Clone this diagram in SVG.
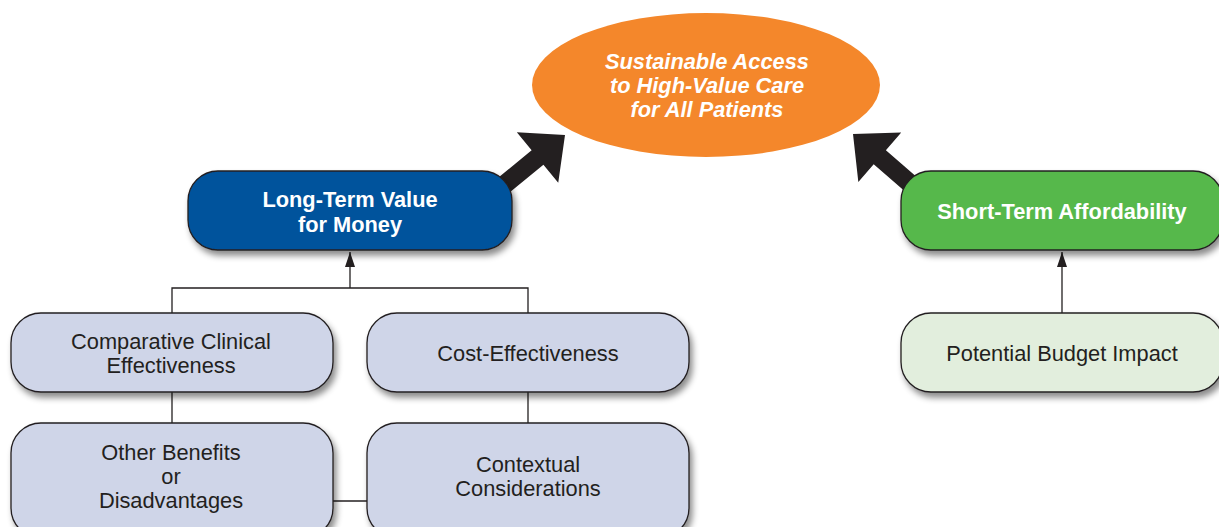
<svg xmlns="http://www.w3.org/2000/svg" width="1219" height="527" viewBox="0 0 1219 527">
  <defs>
    <filter id="shadow" x="-10%" y="-20%" width="125%" height="150%">
      <feDropShadow dx="3" dy="5" stdDeviation="3" flood-color="#000" flood-opacity="0.45"/>
    </filter>
    <marker id="tip" viewBox="0 0 15 10" refX="15" refY="5" markerWidth="15" markerHeight="10" markerUnits="userSpaceOnUse" orient="auto">
      <path d="M0,0 L15,5 L0,10 Z" fill="#231f20"/>
    </marker>
    <!-- bold block arrow, tip at origin, pointing along +x -->
    <path id="bigArrow" d="M0,0 L-35.5,-32.7 L-35.5,-9.3 L-100,-9.3 L-100,9.3 L-35.5,9.3 L-35.5,32.7 Z"/>
  </defs>
  <style>
    .box { stroke: #231f20; stroke-width: 1.3; filter: url(#shadow); }
    .light { fill: #cfd5e8; }
    .pale { fill: #e2eedd; }
    .label { font-family: "Liberation Sans", Arial, sans-serif; font-size: 21.8px; text-anchor: middle; fill: #231f20; }
    .head { font-family: "Liberation Sans", Arial, sans-serif; font-size: 21.8px; font-weight: bold; text-anchor: middle; fill: #ffffff; }
    .goal { font-style: italic; }
    .line { fill: none; stroke: #231f20; stroke-width: 1.3; }
    .block { fill: #231f20; }
  </style>

  <rect width="1219" height="527" fill="#ffffff"/>

  <g id="connectors">
    <use href="#bigArrow" class="block" transform="translate(565,135) rotate(-39.3)"/>
    <use href="#bigArrow" class="block" transform="translate(853,134) rotate(-139)"/>
    <polyline class="line" points="172,313 172,288 528,288 528,313"/>
    <line class="line" x1="350" y1="288" x2="350" y2="252" marker-end="url(#tip)"/>
    <line class="line" x1="172" y1="392" x2="172" y2="423"/>
    <line class="line" x1="528" y1="392" x2="528" y2="423"/>
    <line class="line" x1="333" y1="501" x2="367" y2="501"/>
    <line class="line" x1="1062" y1="313" x2="1062" y2="252" marker-end="url(#tip)"/>
  </g>

  <g id="goal">
    <ellipse cx="706" cy="85" rx="174" ry="72" fill="#f4872b"/>
    <text class="head goal" x="707" y="69">Sustainable Access</text>
    <text class="head goal" x="707" y="93">to High-Value Care</text>
    <text class="head goal" x="707" y="117">for All Patients</text>
  </g>

  <g id="value">
    <rect class="box" x="188" y="171" width="324" height="79" rx="30" fill="#00529c"/>
    <text class="head" x="350" y="207">Long-Term Value</text>
    <text class="head" x="350" y="232">for Money</text>
  </g>

  <g id="affordability">
    <rect class="box" x="901" y="171" width="322" height="79" rx="30" fill="#56b84b"/>
    <text class="head" x="1062" y="219">Short-Term Affordability</text>
  </g>

  <g id="clinical">
    <rect class="box light" x="11" y="313" width="322" height="79" rx="30"/>
    <text class="label" x="171" y="349">Comparative Clinical</text>
    <text class="label" x="171" y="373">Effectiveness</text>
  </g>

  <g id="cost">
    <rect class="box light" x="367" y="313" width="322" height="79" rx="30"/>
    <text class="label" x="528" y="361">Cost-Effectiveness</text>
  </g>

  <g id="budget">
    <rect class="box pale" x="901" y="313" width="322" height="79" rx="30"/>
    <text class="label" x="1062" y="361">Potential Budget Impact</text>
  </g>

  <g id="benefits">
    <rect class="box light" x="11" y="423" width="322" height="115" rx="30"/>
    <text class="label" x="171" y="460">Other Benefits</text>
    <text class="label" x="171" y="484">or</text>
    <text class="label" x="171" y="508">Disadvantages</text>
  </g>

  <g id="context">
    <rect class="box light" x="367" y="423" width="322" height="115" rx="30"/>
    <text class="label" x="528" y="472">Contextual</text>
    <text class="label" x="528" y="496">Considerations</text>
  </g>
</svg>
